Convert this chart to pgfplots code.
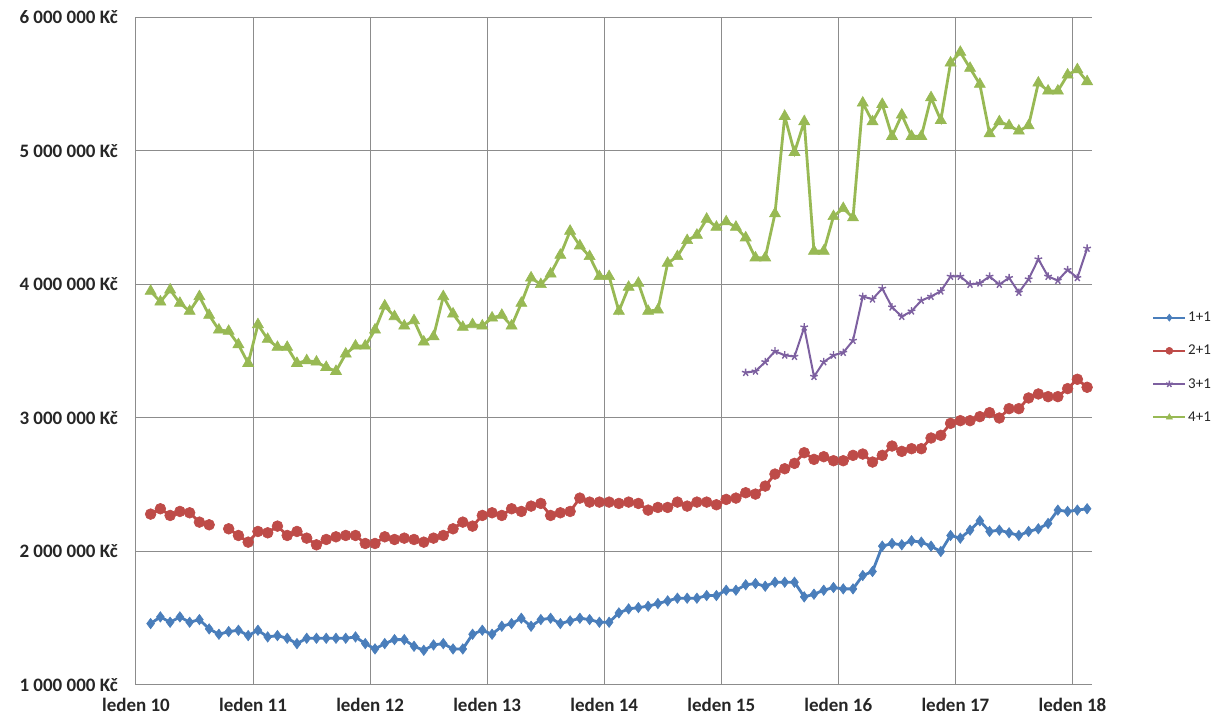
\documentclass[border=0pt]{standalone}
\usepackage{pgfplots}
\usepackage{pgfplotstable}
\usepackage{fontspec}
\setmainfont{Carlito}
\pgfplotsset{compat=1.18}
\definecolor{c1}{HTML}{4A7EBB}
\definecolor{c2}{HTML}{BE4B48}
\definecolor{c3}{HTML}{7D60A0}
\definecolor{c4}{HTML}{98B954}
\definecolor{gridc}{HTML}{8C8C8C}

\pgfplotstableread{
x a b c d
1.5 1.46 2.28 nan 3.95
2.5 1.51 2.32 nan 3.87
3.5 1.47 2.27 nan 3.96
4.5 1.51 2.30 nan 3.86
5.5 1.47 2.29 nan 3.80
6.5 1.49 2.22 nan 3.91
7.5 1.42 2.20 nan 3.77
8.5 1.38 nan nan 3.66
9.5 1.40 2.17 nan 3.65
10.5 1.41 2.12 nan 3.55
11.5 1.37 2.07 nan 3.41
12.5 1.41 2.15 nan 3.70
13.5 1.36 2.14 nan 3.59
14.5 1.37 2.19 nan 3.53
15.5 1.35 2.12 nan 3.53
16.5 1.31 2.15 nan 3.41
17.5 1.35 2.10 nan 3.43
18.5 1.35 2.05 nan 3.42
19.5 1.35 2.09 nan 3.38
20.5 1.35 2.11 nan 3.35
21.5 1.35 2.12 nan 3.48
22.5 1.36 2.12 nan 3.54
23.5 1.31 2.06 nan 3.54
24.5 1.27 2.06 nan 3.66
25.5 1.31 2.11 nan 3.84
26.5 1.34 2.09 nan 3.76
27.5 1.34 2.10 nan 3.69
28.5 1.29 2.09 nan 3.73
29.5 1.26 2.07 nan 3.57
30.5 1.30 2.10 nan 3.61
31.5 1.31 2.12 nan 3.91
32.5 1.27 2.17 nan 3.78
33.5 1.27 2.22 nan 3.68
34.5 1.38 2.19 nan 3.70
35.5 1.41 2.27 nan 3.69
36.5 1.38 2.29 nan 3.75
37.5 1.44 2.27 nan 3.77
38.5 1.46 2.32 nan 3.69
39.5 1.50 2.30 nan 3.86
40.5 1.44 2.34 nan 4.05
41.5 1.49 2.36 nan 4.00
42.5 1.50 2.27 nan 4.08
43.5 1.46 2.29 nan 4.22
44.5 1.48 2.30 nan 4.40
45.5 1.50 2.40 nan 4.29
46.5 1.49 2.37 nan 4.21
47.5 1.47 2.37 nan 4.06
48.5 1.47 2.37 nan 4.06
49.5 1.54 2.36 nan 3.80
50.5 1.57 2.37 nan 3.98
51.5 1.58 2.36 nan 4.01
52.5 1.59 2.31 nan 3.80
53.5 1.61 2.33 nan 3.81
54.5 1.63 2.33 nan 4.16
55.5 1.65 2.37 nan 4.21
56.5 1.65 2.34 nan 4.33
57.5 1.65 2.37 nan 4.37
58.5 1.67 2.37 nan 4.49
59.5 1.67 2.35 nan 4.43
60.5 1.71 2.39 nan 4.47
61.5 1.71 2.40 nan 4.43
62.5 1.75 2.44 3.34 4.35
63.5 1.76 2.43 3.35 4.20
64.5 1.74 2.49 3.42 4.20
65.5 1.77 2.58 3.50 4.53
66.5 1.77 2.62 3.47 5.26
67.5 1.77 2.66 3.46 4.99
68.5 1.66 2.74 3.68 5.22
69.5 1.68 2.69 3.31 4.25
70.5 1.71 2.71 3.42 4.25
71.5 1.73 2.68 3.47 4.51
72.5 1.72 2.68 3.49 4.57
73.5 1.72 2.72 3.58 4.50
74.5 1.82 2.73 3.91 5.36
75.5 1.85 2.67 3.89 5.22
76.5 2.04 2.72 3.97 5.35
77.5 2.06 2.79 3.83 5.11
78.5 2.05 2.75 3.76 5.27
79.5 2.08 2.77 3.80 5.11
80.5 2.07 2.77 3.88 5.11
81.5 2.04 2.85 3.91 5.40
82.5 2.00 2.87 3.95 5.23
83.5 2.12 2.96 4.06 5.66
84.5 2.10 2.98 4.06 5.74
85.5 2.16 2.98 4.00 5.62
86.5 2.23 3.01 4.01 5.50
87.5 2.15 3.04 4.06 5.13
88.5 2.16 3.00 4.00 5.22
89.5 2.14 3.07 4.05 5.19
90.5 2.12 3.07 3.94 5.15
91.5 2.15 3.15 4.04 5.19
92.5 2.17 3.18 4.19 5.51
93.5 2.21 3.16 4.06 5.45
94.5 2.31 3.16 4.03 5.45
95.5 2.30 3.22 4.11 5.57
96.5 2.31 3.29 4.05 5.61
97.5 2.32 3.23 4.27 5.52
}\data

\begin{document}
\begin{tikzpicture}
\begin{axis}[name=ax, scale only axis, width=956pt, height=667.5pt,
  xmin=0, xmax=98, ymin=1, ymax=6,
  xtick={0,12,24,36,48,60,72,84,96},
  xticklabels={leden 10,leden 11,leden 12,leden 13,leden 14,leden 15,leden 16,leden 17,leden 18},
  ytick={1,2,3,4,5,6},
  yticklabels={1~000~000 Kč,2~000~000 Kč,3~000~000 Kč,4~000~000 Kč,5~000~000 Kč,6~000~000 Kč},
  grid=major, grid style={draw=gridc, line width=1pt},
  axis line style={draw=gridc, line width=1pt},
  axis x line*=bottom, axis y line*=left,
  major tick length=0pt,
  tick label style={font=\fontsize{19}{22}\selectfont\bfseries, text=black!85},
  yticklabel style={inner sep=0pt, xshift=-18pt},
  xticklabel style={inner sep=0pt, yshift=-13pt},
  unbounded coords=jump,
  legend style={at={(1.063,0.562)}, anchor=north west, draw=none, fill=none,
    font=\fontsize{15}{17}\selectfont, row sep=18pt, inner sep=0pt,
    text=black!85},
  legend cell align=left,
  legend image code/.code={\draw[mark repeat=2,mark phase=2,#1,line width=1.8pt,mark size=3.5pt] plot coordinates {(0pt,0pt)(16pt,0pt)(32pt,0pt)};},
]
\addplot[c1, line width=2.8pt, mark=diamond*, mark size=5.2pt, mark options={solid, fill=c1, line width=0.6pt}] table[x=x,y=a] {\data};
\addlegendentry{1+1}
\addplot[c2, line width=2.8pt, mark=*, mark size=5.4pt, mark options={solid, fill=c2, line width=0.6pt}] table[x=x,y=b] {\data};
\addlegendentry{2+1}
\addplot[c3, line width=2pt, mark=star, mark size=4pt, mark options={solid, line width=1.4pt}] table[x=x,y=c] {\data};
\addlegendentry{3+1}
\addplot[c4, line width=2.8pt, mark=triangle*, mark size=6.4pt, mark options={solid, fill=c4, line width=0.6pt}] table[x=x,y=d] {\data};
\addlegendentry{4+1}
\end{axis}
\pgfresetboundingbox
\path[use as bounding box] ([xshift=-136pt,yshift=-42pt]ax.south west) rectangle ([xshift=135pt,yshift=17.5pt]ax.north east);
\end{tikzpicture}
\end{document}
